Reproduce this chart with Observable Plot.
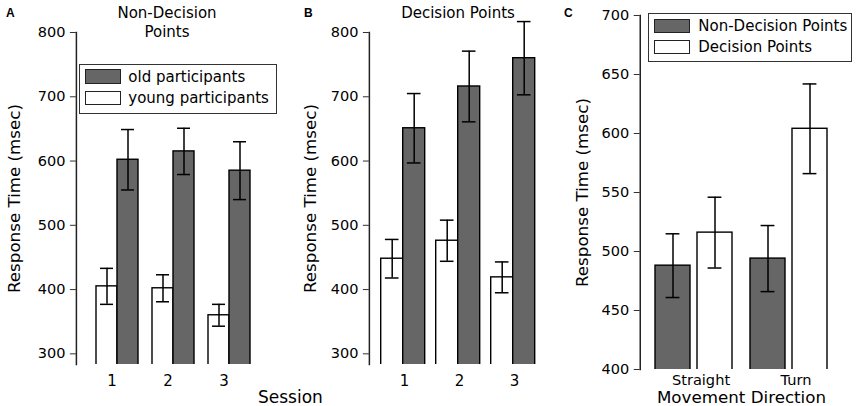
<!DOCTYPE html>
<html>
<head>
<meta charset="utf-8">
<script src="https://cdn.jsdelivr.net/npm/d3@7"></script>
<script src="https://cdn.jsdelivr.net/npm/@observablehq/plot@0.6"></script>
<style>
  body { margin: 0; background: #fff; }
  #wrap { position: relative; width: 856px; height: 406px; overflow: hidden; background: #fff;
          font-family: "DejaVu Sans", sans-serif; color: #000; }
  .abs { position: absolute; }
  .letter { font-family: "Liberation Sans", Arial, sans-serif; font-weight: bold; font-size: 12px; line-height: 12px; }
  .title { font-size: 15px; line-height: 19px; text-align: center; white-space: nowrap; }
  .legend { box-sizing: border-box; border: 1px solid #333; background: #fff; }
  .row { display: flex; align-items: center; font-size: 15px; white-space: nowrap; }
  .sw { box-sizing: border-box; width: 35.5px; height: 14.5px; border: 1.5px solid #222; flex: none; }
</style>
</head>
<body>
<div id="wrap"></div>
<script>
// ---------------- data ----------------
const sessions = ["1", "2", "3"];
const ageGroups = ["young participants", "old participants"];
const ageLegend = ["old participants", "young participants"];

const nonDecOld = [602, 615, 585];
const nonDecOldSE = [47, 36, 45];
const nonDecYoung = [405, 402, 360];
const nonDecYoungSE = [28, 21, 17];

const decOld = [651, 716, 760];
const decOldSE = [54, 55, 57];
const decYoung = [448, 476, 419];
const decYoungSE = [30, 32, 24];

const directions = ["Straight", "Turn"];
const pointTypes = ["Non-Decision Points", "Decision Points"];
const dirNonDec = [488, 494];
const dirNonDecSE = [27, 28];
const dirDec = [516, 604];
const dirDecSE = [30, 38];

const ticksAB = [300, 400, 500, 600, 700, 800];
const ticksC = [400, 450, 500, 550, 600, 650, 700];

const titleA = ["Non-Decision", "Points"];
const titleB = ["Decision Points"];
const yLabel = "Response Time (msec)";
const xLabelAB = "Session";
const xLabelC = "Movement Direction";
const letters = ["A", "B", "C"];

// ---------------- style ----------------
const GREY = "#666666";
const FONT = "DejaVu Sans";
const wrap = document.getElementById("wrap");

function rowsAB(young, youngSE, old, oldSE) {
  return sessions.flatMap((s, i) => [
    {s, g: ageGroups[0], v: young[i], se: youngSE[i]},
    {s, g: ageGroups[1], v: old[i], se: oldSE[i]}
  ]);
}
const rowsC = directions.flatMap((s, i) => [
  {s, g: pointTypes[0], v: dirNonDec[i], se: dirNonDecSE[i]},
  {s, g: pointTypes[1], v: dirDec[i], se: dirDecSE[i]}
]);

function place(node, left, top) {
  const d = document.createElement("div");
  d.className = "abs";
  d.style.left = left + "px";
  d.style.top = top + "px";
  d.appendChild(node);
  wrap.appendChild(d);
  return d;
}

function errMarks(rows, inset) {
  const common = {fx: "s", x: "g", stroke: "#000", strokeWidth: 1.5};
  return [
    Plot.ruleX(rows, {...common, y1: d => d.v - d.se, y2: d => d.v + d.se}),
    Plot.tickY(rows, {...common, y: d => d.v - d.se, insetLeft: inset, insetRight: inset}),
    Plot.tickY(rows, {...common, y: d => d.v + d.se, insetLeft: inset, insetRight: inset})
  ];
}

function panel(rows, cfg) {
  // the y axis sits on the first facet; shift it back to the frame's left edge
  const n = cfg.fxDomain.length;
  const span = cfg.width - cfg.ml - cfg.mr;
  const step = span / (n - cfg.pi + 2 * cfg.po);
  const shift = -cfg.po * step;
  return Plot.plot({
    width: cfg.width, height: 406,
    marginLeft: cfg.ml, marginRight: cfg.mr, marginTop: cfg.mt, marginBottom: cfg.mb,
    style: {fontFamily: FONT, fontSize: "16.7px", background: "transparent", color: "#000", overflow: "visible"},
    fx: {domain: cfg.fxDomain, paddingInner: cfg.pi, paddingOuter: cfg.po, label: null},
    x: {domain: cfg.xDomain, paddingInner: cfg.xpi, paddingOuter: cfg.xpo, axis: null},
    y: {domain: cfg.yDomain},
    color: {domain: cfg.xDomain, range: cfg.fills},
    marks: [
      Plot.barY(rows, {fx: "s", x: "g", y: "v", fill: "g", stroke: "#000", strokeWidth: 1.4, clip: true}),
      ...errMarks(rows, cfg.capInset),
      Plot.frame({anchor: "left", facet: "super", stroke: "#222", strokeWidth: 1.5, dx: shift}),
      Plot.axisY({ticks: cfg.yTicks, tickSize: 6, tickPadding: 5, fontSize: 14.5, label: null, stroke: "#333", fill: "#000", dx: shift}),
      Plot.axisY({ticks: [], label: yLabel, labelAnchor: "center", labelArrow: "none", labelOffset: cfg.lo - shift, fill: "#000"}),
      Plot.axisFx({anchor: "bottom", tickSize: 0, tickPadding: cfg.ftp, fontSize: cfg.ffs, label: null, dx: cfg.fdx, fill: "#000"}),
      ...(cfg.fxLabel ? [Plot.axisFx({anchor: "bottom", ticks: [], label: cfg.fxLabel, labelAnchor: "center", labelArrow: "none", labelOffset: 33, fill: "#000"})] : [])
    ]
  });
}

// Panel A
place(panel(rowsAB(nonDecYoung, nonDecYoungSE, nonDecOld, nonDecOldSE), {
  width: 280, ml: 75, mr: 10.2, mt: 32, mb: 42, pi: 0.195, po: 0.32, xpi: 0, xpo: 0.03,
  fxDomain: sessions, xDomain: ageGroups, fills: ["white", GREY], yDomain: [283.4, 800],
  yTicks: ticksAB, capInset: 4, lo: 68, ftp: 11, fdx: -5, ffs: 15
}), 0, 0);

// Panel B
place(panel(rowsAB(decYoung, decYoungSE, decOld, decOldSE), {
  width: 280, ml: 88.3, mr: 12.1, mt: 32, mb: 42, pi: 0.17, po: 0.2, xpi: 0, xpo: 0.03,
  fxDomain: sessions, xDomain: ageGroups, fills: ["white", GREY], yDomain: [283.4, 800],
  yTicks: ticksAB, capInset: 4.2, lo: 65, ftp: 11, fdx: 1, ffs: 15
}), 280, 0);

// Panel C
place(panel(rowsC, {
  width: 296, ml: 80, mr: 13.4, mt: 15, mb: 37, pi: 0.168, po: 0.15, xpi: 0.178, xpo: 0.02,
  fxDomain: directions, xDomain: pointTypes, fills: [GREY, "white"], yDomain: [400, 700],
  yTicks: ticksC, capInset: 10.6, lo: 64, ftp: 5, fdx: 7, ffs: 14.6, fxLabel: xLabelC
}), 560, 0);

// ---------------- titles, letters, labels ----------------
function textDiv(cls, html, left, top, width) {
  const d = document.createElement("div");
  d.className = "abs " + cls;
  d.style.left = left + "px";
  d.style.top = top + "px";
  if (width) d.style.width = width + "px";
  d.innerHTML = html;
  wrap.appendChild(d);
  return d;
}
textDiv("title", titleA.join("<br>"), 107, 3.6, 120);
textDiv("title", titleB.join("<br>"), 398, 3.6, 120);
[[letters[0], 6], [letters[1], 304], [letters[2], 564]].forEach(([t, x]) => textDiv("letter", t, x, 6.5));
const sess = textDiv("", xLabelAB, 258, 388.9);
sess.style.fontSize = "17px"; sess.style.lineHeight = "17px";

// ---------------- legends ----------------
function legend(labels, fills, box) {
  const d = document.createElement("div");
  d.className = "abs legend";
  Object.assign(d.style, {left: box.left + "px", top: box.top + "px", width: box.w + "px", height: box.h + "px",
    paddingTop: box.pt + "px", paddingLeft: box.pl + "px"});
  labels.forEach((lab, i) => {
    const r = document.createElement("div");
    r.className = "row";
    r.style.height = box.rh + "px";
    const sw = document.createElement("span");
    sw.className = "sw";
    sw.style.background = fills[i];
    sw.style.marginRight = box.gap + "px";
    r.appendChild(sw);
    const t = document.createElement("span");
    t.textContent = lab;
    r.appendChild(t);
    d.appendChild(r);
  });
  wrap.appendChild(d);
}
legend(ageLegend, [GREY, "white"], {left: 79, top: 64.3, w: 197.7, h: 49.7, pt: 0.5, pl: 5, rh: 21.5, gap: 7.8});
legend(pointTypes, [GREY, "white"], {left: 648.3, top: 12.7, w: 203.7, h: 49, pt: 1.8, pl: 5, rh: 21, gap: 8.5});
</script>
</body>
</html>
